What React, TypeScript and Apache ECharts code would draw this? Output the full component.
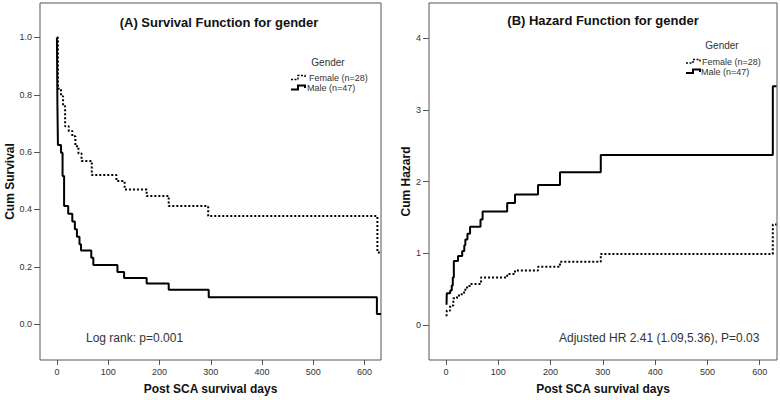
import React, { useEffect, useRef } from "react";
import * as echarts from "echarts";

// Survival function (A)
const maleSurvDays = [0, 1, 2, 8, 11, 14, 22, 30, 35, 39, 44, 47, 67, 71, 118, 131, 175, 218, 296, 624, 632];
const maleSurv = [1.0, 0.756, 0.625, 0.598, 0.517, 0.412, 0.385, 0.358, 0.331, 0.305, 0.279, 0.257, 0.232, 0.206, 0.182, 0.161, 0.142, 0.12, 0.094, 0.035, 0.035];
const femaleSurvDays = [0, 2, 8, 12, 16, 23, 30, 36, 42, 48, 68, 116, 132, 175, 218, 295, 625, 632];
const femaleSurv = [1.0, 0.821, 0.795, 0.76, 0.69, 0.674, 0.655, 0.62, 0.595, 0.569, 0.52, 0.499, 0.47, 0.447, 0.412, 0.377, 0.25, 0.25];

// Hazard function (B)
const maleHazDays = [1, 1.5, 8, 11, 13, 15, 23, 31, 35, 37, 41, 46, 66, 70, 117, 132, 176, 218, 296, 625, 632];
const maleHaz = [0.28, 0.44, 0.48, 0.55, 0.66, 0.89, 0.96, 1.03, 1.11, 1.19, 1.27, 1.37, 1.47, 1.58, 1.70, 1.82, 1.95, 2.13, 2.37, 3.33, 3.33];
const femaleHazDays = [1, 1.5, 8, 14, 21, 30, 37, 45, 67, 117, 132, 176, 218, 296, 625, 632];
const femaleHaz = [0.12, 0.2, 0.27, 0.37, 0.41, 0.45, 0.52, 0.57, 0.66, 0.71, 0.76, 0.81, 0.88, 0.99, 1.40, 1.40];

const xTicks = [0, 100, 200, 300, 400, 500, 600];
const survTicks = [0, 0.2, 0.4, 0.6, 0.8, 1.0];
const hazTicks = [0, 1, 2, 3, 4];

const seriesNames = ["Female (n=28)", "Male (n=47)"];
const titles = ["(A) Survival Function for gender", "(B) Hazard Function for gender"];

const FONT = "'Liberation Sans', Arial, sans-serif";

const zip = (a: number[], b: number[]) => a.map((d, i) => [d, b[i]]);

export default function App() {
  const ref = useRef<HTMLDivElement>(null);
  useEffect(() => {
    if (!ref.current) return;
    const chart = echarts.init(ref.current, undefined, { renderer: "svg" });

    const xAxisBase = (gridIndex: number, min: number, max: number) => ({
      type: "value",
      gridIndex,
      min,
      max,
      name: "Post SCA survival days",
      nameLocation: "middle",
      nameGap: 23,
      nameTextStyle: { fontFamily: FONT, fontSize: 12, fontWeight: "bold", color: "#111" },
      axisLine: { show: false, onZero: false },
      axisTick: { show: true, length: 5, customValues: xTicks, lineStyle: { color: "#555" } },
      axisLabel: { customValues: xTicks, fontFamily: FONT, fontSize: 9, color: "#333", margin: 7 },
      splitLine: { show: false },
    });

    const yAxisBase = (gridIndex: number, min: number, max: number, ticks: number[], name: string, gap: number, fmt: (v: number) => string) => ({
      type: "value",
      gridIndex,
      min,
      max,
      name,
      nameLocation: "middle",
      nameGap: gap,
      nameTextStyle: { fontFamily: FONT, fontSize: 12, fontWeight: "bold", color: "#111" },
      axisLine: { show: false, onZero: false },
      axisTick: { show: true, length: 6, customValues: ticks, lineStyle: { color: "#555" } },
      axisLabel: { customValues: ticks, fontFamily: FONT, fontSize: 9, color: "#333", margin: 8, formatter: fmt },
      splitLine: { show: false },
    });

    const lineSeries = (name: string, xi: number, data: number[][], dashed: boolean) => ({
      type: "line",
      name,
      xAxisIndex: xi,
      yAxisIndex: xi,
      data,
      step: "end",
      showSymbol: false,
      symbol: "none",
      clip: true,
      lineStyle: { color: "#000", width: dashed ? 2 : 2, type: dashed ? [2, 2] : "solid" },
    });

    const legendIcon = (pts: number[][], dashed: boolean) => ({
      type: "polyline",
      shape: { points: pts },
      style: { stroke: "#000", lineWidth: dashed ? 1.5 : 2, lineDash: dashed ? [2, 1.5] : null, fill: null },
    });

    const txt = (x: number, y: number, text: string, size: number, align: string) => ({
      type: "text",
      x,
      y,
      style: { text, fontFamily: FONT, fontSize: size, fill: "#333", align, verticalAlign: "middle" },
    });

    chart.setOption({
      animation: false,
      backgroundColor: "#fff",
      title: [
        { text: titles[0], left: 214, top: 11, textAlign: "center", textStyle: { fontFamily: FONT, fontSize: 13, fontWeight: "bold", color: "#111" } },
        { text: titles[1], left: 598, top: 9, textAlign: "center", textStyle: { fontFamily: FONT, fontSize: 13, fontWeight: "bold", color: "#111" } },
      ],
      grid: [
        { left: 40, top: 3, width: 341, height: 358, show: true, borderColor: "#555", borderWidth: 1, backgroundColor: "#fff" },
        { left: 429, top: 3, width: 348, height: 358, show: true, borderColor: "#555", borderWidth: 1, backgroundColor: "#fff" },
      ],
      xAxis: [xAxisBase(0, -33, 632), xAxisBase(1, -32.5, 633)],
      yAxis: [
        yAxisBase(0, -0.125, 1.12, survTicks, "Cum Survival", 24, (v: number) => v.toFixed(1)),
        yAxisBase(1, -0.49, 4.49, hazTicks, "Cum Hazard", 15, (v: number) => String(Math.round(v))),
      ],
      series: [
        lineSeries(seriesNames[0], 0, zip(femaleSurvDays, femaleSurv), true),
        lineSeries(seriesNames[1], 0, zip(maleSurvDays, maleSurv), false),
        lineSeries(seriesNames[0], 1, zip(femaleHazDays, femaleHaz), true),
        lineSeries(seriesNames[1], 1, zip(maleHazDays, maleHaz), false),
      ],
      graphic: [
        txt(328, 62, "Gender", 10, "center"),
        legendIcon([[291, 79.5], [298, 79.5], [298, 75.5], [305, 75.5], [305, 78]], true),
        txt(309, 78, seriesNames[0], 9, "left"),
        legendIcon([[291, 89.5], [298, 89.5], [298, 85.5], [305, 85.5], [305, 88]], false),
        txt(307, 88, seriesNames[1], 9, "left"),
        txt(722, 45, "Gender", 10, "center"),
        legendIcon([[686, 63], [693, 63], [693, 59.5], [700, 59.5], [700, 62]], true),
        txt(702, 62, seriesNames[0], 9, "left"),
        legendIcon([[686, 73], [693, 73], [693, 69.5], [700, 69.5], [700, 72]], false),
        txt(701, 72, seriesNames[1], 9, "left"),
        txt(86, 338, "Log rank: p=0.001", 12, "left"),
        txt(559, 338, "Adjusted HR 2.41 (1.09,5.36), P=0.03", 12, "left"),
      ],
    });
    return () => chart.dispose();
  }, []);
  return <div ref={ref} style={{ position: "absolute", left: 0, top: 0, width: 780, height: 400, background: "#fff" }} />;
}
